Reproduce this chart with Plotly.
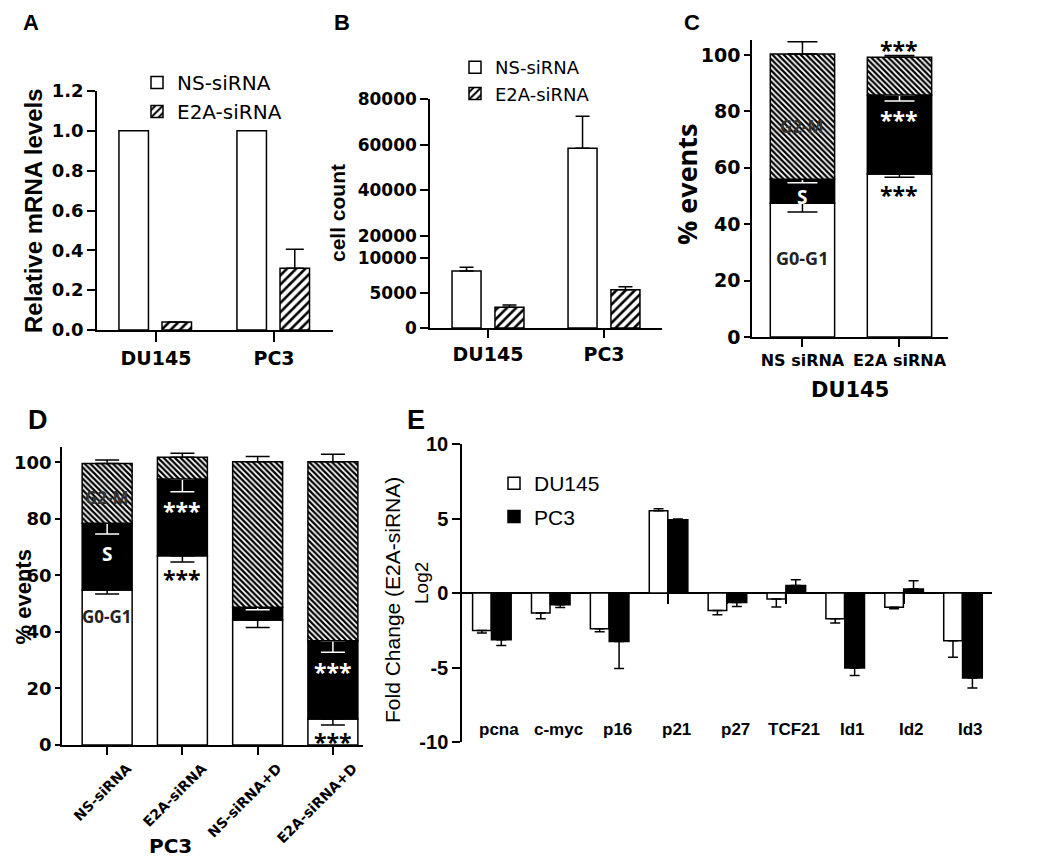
import plotly.graph_objects as go

# page body adds an 8px margin, so the figure is drawn 8px smaller and offset
OFF = 8
W, H = 1050 - OFF, 857 - OFF

# ---------------- data ----------------
# Panel A: relative mRNA levels
a_cats = ["DU145", "PC3"]
a_ns = [1.0, 1.0]
a_e2a = [0.04, 0.31]
a_e2a_err = [0.0, 0.095]

# Panel B: cell count
b_cats = ["DU145", "PC3"]
b_ns = [8140, 58400]
b_ns_err = [550, 14000]
b_e2a = [2950, 5470]
b_e2a_err = [330, 430]

# Panel C: cell cycle, DU145 (% events per phase)
c_cats = ["NS siRNA", "E2A siRNA"]
c_g0g1 = [47.4, 57.8]
c_g0g1_err = [3.1, 1.2]
c_s = [8.5, 28.0]
c_s_err = [1.2, 2.1]
c_g2m = [44.4, 13.4]
c_g2m_err = [4.4, 0.6]
c_sig = [False, True]

# Panel D: cell cycle, PC3
d_cats = ["NS-siRNA", "E2A-siRNA", "NS-siRNA+D", "E2A-siRNA+D"]
d_g0g1 = [54.8, 66.9, 44.2, 9.2]
d_g0g1_err = [1.4, 2.2, 2.6, 2.1]
d_s = [23.6, 27.2, 4.5, 27.7]
d_s_err = [3.8, 4.5, 0.9, 4.1]
d_g2m = [21.2, 7.7, 51.5, 63.3]
d_g2m_err = [1.2, 1.4, 1.8, 2.6]
d_sig = [False, True, False, True]

# Panel E: log2 fold change
e_genes = ["pcna", "c-myc", "p16", "p21", "p27", "TCF21", "Id1", "Id2", "Id3"]
e_du = [-2.51, -1.34, -2.40, 5.52, -1.17, -0.40, -1.72, -0.96, -3.20]
e_du_err = [0.17, 0.38, 0.20, 0.14, 0.29, 0.54, 0.29, 0.09, 1.12]
e_pc3 = [-3.13, -0.79, -3.25, 4.92, -0.63, 0.51, -5.03, 0.27, -5.71]
e_pc3_err = [0.39, 0.18, 1.81, 0.05, 0.27, 0.38, 0.50, 0.56, 0.67]
e_tickvals = [-10, -5, 0, 5, 10]
e_ticktext = ["-10", "-5", "0", "5", "10"]

# ---------------- helpers (pixel positions measured on the 1050x857 page) ----------------
def px(x):
    return (x - OFF) / W

def py(y):
    return 1 - (y - OFF) / H

def xd(a, b):
    return [px(a), px(b)]

def yd(top, bottom):
    return [py(bottom), py(top)]

DJ = "DejaVu Sans"
AR = "Liberation Sans, Arial"
OS = "Open Sans"

LINE = dict(color="black", width=1.5)
HATCH_A = dict(shape="/", bgcolor="white", fgcolor="black", size=6.5, solidity=0.4, fillmode="replace")
HATCH_C = dict(shape="\\", bgcolor="white", fgcolor="black", size=4, solidity=0.55, fillmode="replace")


def up_err(vals, w, color="black"):
    return dict(type="data", symmetric=False, array=list(vals), arrayminus=[0] * len(vals),
                color=color, thickness=1.5, width=w)


def down_err(vals, w, color="black"):
    return dict(type="data", symmetric=False, array=[0] * len(vals), arrayminus=list(vals),
                color=color, thickness=1.5, width=w)


def away_err(vals, errs, w):
    plus = [e if v > 0 else 0 for v, e in zip(vals, errs)]
    minus = [e if v < 0 else 0 for v, e in zip(vals, errs)]
    return dict(type="data", symmetric=False, array=plus, arrayminus=minus,
                color="black", thickness=1.5, width=w)


fig = go.Figure()

# ---------------- Panel A ----------------
fig.add_bar(x=a_cats, y=a_ns, name="NS-siRNA", width=0.25, offset=-0.314,
            marker=dict(color="white", line=LINE), xaxis="x", yaxis="y", legend="legend")
fig.add_bar(x=a_cats, y=a_e2a, name="E2A-siRNA", width=0.25, offset=0.051,
            marker=dict(color="white", line=LINE, pattern=HATCH_A),
            error_y=up_err(a_e2a_err, 9), xaxis="x", yaxis="y", legend="legend")

# ---------------- Panel B (broken axis: two stacked subplots) ----------------
for xa, ya, show in (("x2", "y2", True), ("x3", "y3", False)):
    fig.add_bar(x=b_cats, y=b_ns, name="NS-siRNA", width=0.25, offset=-0.31,
                marker=dict(color="white", line=LINE), error_y=up_err(b_ns_err, 7),
                xaxis=xa, yaxis=ya, legend="legend2", showlegend=show)
    fig.add_bar(x=b_cats, y=b_e2a, name="E2A-siRNA", width=0.25, offset=0.06,
                marker=dict(color="white", line=LINE, pattern=HATCH_A), error_y=up_err(b_e2a_err, 7),
                xaxis=xa, yaxis=ya, legend="legend2", showlegend=show)


# ---------------- Stacked panels C, D ----------------
def stacked(cats, g0, g0e, s, se, g2, g2e, xa, ya, width, cap):
    base_s = list(g0)
    base_g2 = [a + b for a, b in zip(g0, s)]
    fig.add_bar(x=cats, y=g0, name="G0-G1", width=width, marker=dict(color="white", line=LINE),
                error_y=down_err(g0e, cap), xaxis=xa, yaxis=ya, showlegend=False)
    fig.add_bar(x=cats, y=s, base=base_s, name="S", width=width, marker=dict(color="black", line=LINE),
                error_y=down_err(se, cap, "white"), xaxis=xa, yaxis=ya, showlegend=False)
    fig.add_bar(x=cats, y=g2, base=base_g2, name="G2-M", width=width,
                marker=dict(color="white", line=LINE, pattern=HATCH_C),
                error_y=up_err(g2e, cap), xaxis=xa, yaxis=ya, showlegend=False)


stacked(c_cats, c_g0g1, c_g0g1_err, c_s, c_s_err, c_g2m, c_g2m_err, "x4", "y4", 0.663, 15)
stacked(d_cats, d_g0g1, d_g0g1_err, d_s, d_s_err, d_g2m, d_g2m_err, "x5", "y5", 0.664, 12)

# ---------------- Panel E ----------------
fig.add_bar(x=e_genes, y=e_du, name="DU145", width=0.315, offset=-0.32,
            marker=dict(color="white", line=LINE), error_y=away_err(e_du, e_du_err, 5),
            xaxis="x6", yaxis="y6", legend="legend3", legendgroup="du")
fig.add_bar(x=e_genes, y=e_pc3, name="PC3", width=0.335, offset=0.0,
            marker=dict(color="black", line=LINE), error_y=away_err(e_pc3, e_pc3_err, 5),
            xaxis="x6", yaxis="y6", legend="legend3", legendgroup="pc3")

# ---------------- axes ----------------
def ax(**kw):
    base = dict(showline=True, linecolor="black", linewidth=1.5, ticks="outside", tickcolor="black",
                tickwidth=1.5, showgrid=False, zeroline=False, automargin=False)
    base.update(kw)
    return base


def tf(size, family=DJ, weight="bold", color="black"):
    return dict(family=family, size=size, weight=weight, color=color)


layout_axes = dict(
    xaxis=ax(domain=xd(97, 333), anchor="y", range=[-0.5, 1.5], ticklen=10, tickfont=tf(19)),
    yaxis=ax(domain=yd(91, 330), anchor="x", range=[0, 1.2], dtick=0.2, tick0=0, tickformat=".1f",
             ticklen=8, tickfont=tf(18)),
    xaxis2=ax(domain=xd(430, 662), anchor="y2", range=[-0.5, 1.5], ticklen=8, tickfont=tf(19)),
    yaxis2=ax(domain=yd(247, 328), anchor="x2", range=[0, 11571], tickvals=[0, 5000, 10000],
              tickformat="d", ticklen=8, tickfont=tf(17)),
    xaxis3=dict(domain=xd(430, 662), anchor="y3", range=[-0.5, 1.5], visible=False, automargin=False),
    yaxis3=ax(domain=yd(99, 247), anchor="x3", range=[15180, 80000],
              tickvals=[20000, 40000, 60000, 80000], tickformat="d", ticklen=8, tickfont=tf(17)),
    xaxis4=ax(domain=xd(752, 948), anchor="y4", range=[-0.52, 1.5], ticklen=8, tickfont=tf(16)),
    yaxis4=ax(domain=yd(40, 337), anchor="x4", range=[0, 105.3], dtick=20, tick0=0, ticklen=6,
              tickfont=tf(19)),
    xaxis5=ax(domain=xd(62, 363), anchor="y5", range=[-0.6, 3.4], ticklen=8, tickangle=-45,
              tickfont=tf(14), ticklabelshift=20),
    yaxis5=ax(domain=yd(446.7, 745), anchor="x5", range=[0, 105.5], dtick=20, tick0=0, ticklen=5,
              tickfont=tf(18)),
    xaxis6=dict(domain=xd(462, 992), anchor="free", position=py(593.3), range=[-0.5, 8.5],
                showline=False, ticks="outside", ticklen=10, tickcolor="black", tickwidth=1.5,
                showticklabels=False, showgrid=False, zeroline=False, layer="below traces",
                automargin=False),
    yaxis6=ax(domain=yd(444, 742), anchor="x6", range=[-10, 10], tickvals=e_tickvals,
              ticktext=e_ticktext, ticklen=8, tickfont=tf(20, AR), zeroline=True,
              zerolinecolor="black", zerolinewidth=1.5),
)

# ---------------- annotations ----------------
anns = []


def note(text, x, y, size, family=DJ, weight="bold", color="black", angle=0, xref="paper",
         yref="paper", xshift=0, yshift=0, yanchor="middle"):
    anns.append(dict(text=text, x=x, y=y, xref=xref, yref=yref, showarrow=False, textangle=angle,
                     xanchor="center", yanchor=yanchor, xshift=xshift, yshift=yshift,
                     font=dict(family=family, size=size, weight=weight, color=color)))


# panel letters (top row pinned to the top edge of the figure)
for letter, lx in (("A", 31), ("B", 342), ("C", 692)):
    note(letter, px(lx), 1, 22, AR, yanchor="top")
for letter, lx, ly in (("D", 38, 420), ("E", 416, 420)):
    note(letter, px(lx), py(ly), 27, AR)

# axis titles
note("Relative mRNA levels", px(33), py(211), 24, AR, angle=-90)
note("cell count", px(338), py(213), 21, AR, angle=-90)
note("% events", px(686), py(184), 27, OS, angle=-90)
note("% events", px(22.5), py(597), 22, AR, angle=-90)
note("DU145", px(850), py(390), 21)
note("PC3", px(170), py(846), 20)
note("Fold Change (E2A-siRNA)", px(392), py(600), 21, AR, weight="normal", angle=-90)
note("Log2", px(421), py(583), 19, AR, weight="normal", angle=-90)

# phase labels (first bar of C and D)
note("G2-M", c_cats[0], 74.5, 17, OS, color="#333333", xref="x4", yref="y4")
note("S", c_cats[0], 49.6, 19, OS, color="white", xref="x4", yref="y4")
note("G0-G1", c_cats[0], 28.0, 18, OS, color="#222222", xref="x4", yref="y4")
note("G2-M", d_cats[0], 87.7, 17, OS, color="#333333", xref="x5", yref="y5")
note("S", d_cats[0], 67.6, 19, OS, color="white", xref="x5", yref="y5")
note("G0-G1", d_cats[0], 45.6, 17, OS, color="#222222", xref="x5", yref="y5")


# significance stars
def stars(cats, sig, g0, g0e, s, se, g2, g2e, xr, yr):
    for i, c in enumerate(cats):
        if not sig[i]:
            continue
        top_g2 = g0[i] + s[i] + g2[i]
        top_s = g0[i] + s[i]
        note("***", c, top_g2 + g2e[i] + 4, 23, OS, xref=xr, yref=yr, yshift=-6)
        note("***", c, top_s - se[i] - 4.7, 23, OS, color="white", xref=xr, yref=yr, yshift=-6)
        note("***", c, g0[i] - g0e[i] - 4, 23, OS, xref=xr, yref=yr, yshift=-6)


stars(c_cats, c_sig, c_g0g1, c_g0g1_err, c_s, c_s_err, c_g2m, c_g2m_err, "x4", "y4")
stars(d_cats, d_sig, d_g0g1, d_g0g1_err, d_s, d_s_err, d_g2m, d_g2m_err, "x5", "y5")

# gene labels of panel E
for g in e_genes:
    note(g, g, -9.17, 17, AR, xref="x6", yref="y6", xshift=8)

fig.update_layout(
    width=W, height=H, margin=dict(l=0, r=0, t=0, b=0, autoexpand=False),
    paper_bgcolor="white", plot_bgcolor="white", barmode="overlay",
    annotations=anns, showlegend=True,
    legend=dict(x=px(137), y=py(63), xanchor="left", yanchor="top", bgcolor="rgba(0,0,0,0)",
                font=dict(family=DJ, size=20, color="black"), itemwidth=30),
    legend2=dict(x=px(455), y=py(49), xanchor="left", yanchor="top", bgcolor="rgba(0,0,0,0)",
                 font=dict(family=DJ, size=18, color="black"), itemwidth=30),
    legend3=dict(x=px(494), y=py(463), xanchor="left", yanchor="top", bgcolor="rgba(0,0,0,0)",
                 font=dict(family=AR, size=21, color="black"), itemwidth=30, tracegroupgap=3),
    **layout_axes,
)

fig.write_html("out.html")
